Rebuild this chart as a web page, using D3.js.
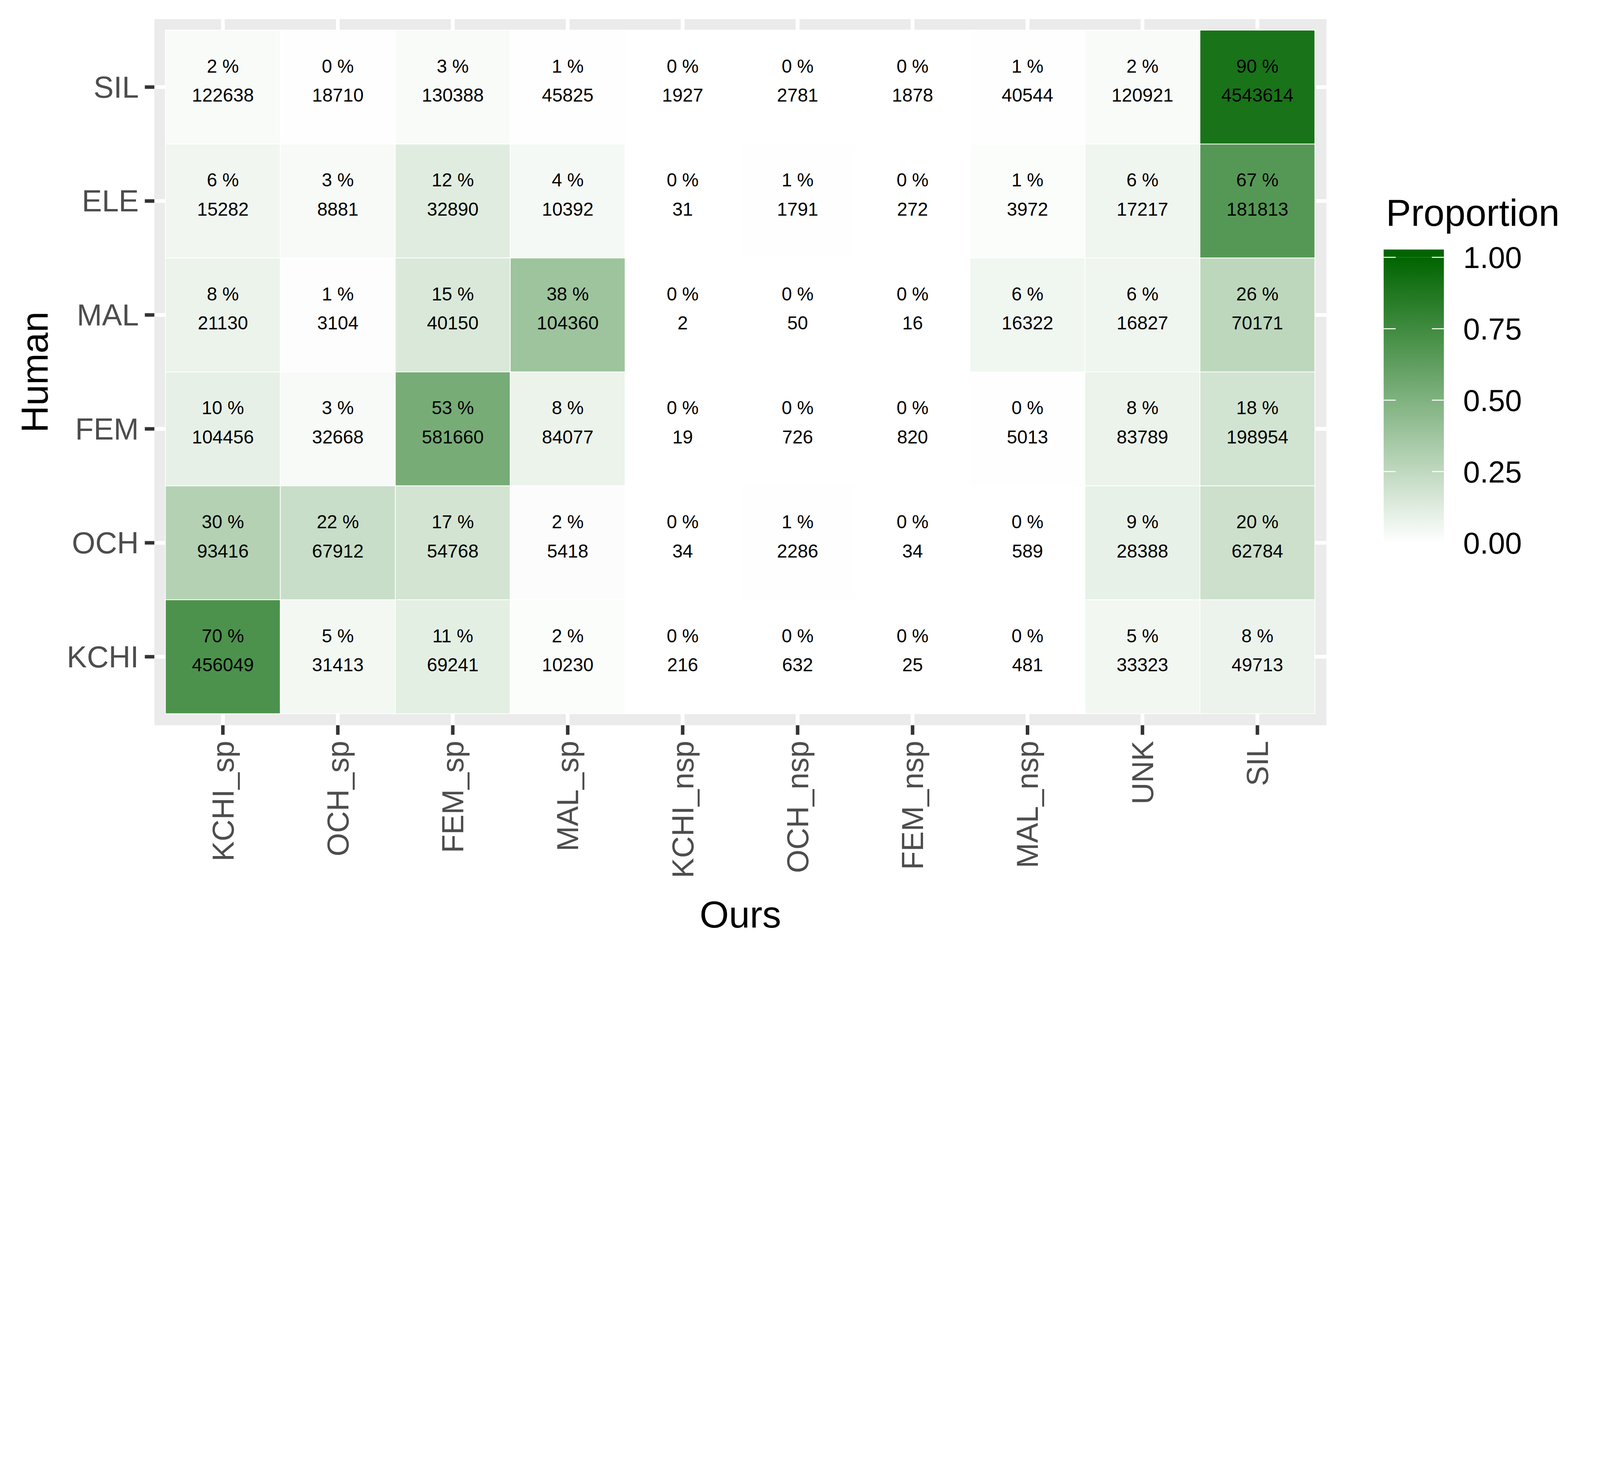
<!DOCTYPE html>
<html>
<head>
<meta charset="utf-8">
<script src="https://cdn.jsdelivr.net/npm/d3@7"></script>
<style>
  html, body { margin: 0; padding: 0; background: #fff; overflow: hidden; }
  #chart { display: block; width: 100vw; height: 100vh; }
  text { font-family: "Liberation Sans", Arial, sans-serif; }
</style>
</head>
<body>
<svg id="chart"></svg>
<script>
// Data
const ours = ["KCHI_sp", "OCH_sp", "FEM_sp", "MAL_sp", "KCHI_nsp", "OCH_nsp", "FEM_nsp", "MAL_nsp", "UNK", "SIL"];
const human = ["SIL", "ELE", "MAL", "FEM", "OCH", "KCHI"];
const countsSIL = [122638, 18710, 130388, 45825, 1927, 2781, 1878, 40544, 120921, 4543614];
const countsELE = [15282, 8881, 32890, 10392, 31, 1791, 272, 3972, 17217, 181813];
const countsMAL = [21130, 3104, 40150, 104360, 2, 50, 16, 16322, 16827, 70171];
const countsFEM = [104456, 32668, 581660, 84077, 19, 726, 820, 5013, 83789, 198954];
const countsOCH = [93416, 67912, 54768, 5418, 34, 2286, 34, 589, 28388, 62784];
const countsKCHI = [456049, 31413, 69241, 10230, 216, 632, 25, 481, 33323, 49713];
const legendTicks = [0, 0.25, 0.5, 0.75, 1];

const rows = [countsSIL, countsELE, countsMAL, countsFEM, countsOCH, countsKCHI];
const cells = [];
rows.forEach((r, i) => {
  const total = d3.sum(r);
  r.forEach((v, j) => cells.push({ h: human[i], o: ours[j], n: v, p: v / total }));
});

// Dimensions
const width = 6375, height = 3770;
const panel = { x0: 615, x1: 5285, y0: 76, y1: 2889 };
const svg = d3.select("#chart")
  .attr("viewBox", `0 0 ${width} ${height}`)
  .attr("preserveAspectRatio", "xMinYMin meet");

const x = d3.scaleBand().domain(ours).range([659, 5239]);
const y = d3.scaleBand().domain(human).range([120, 2843]);
const color = d3.scaleLinear().domain([0, 1]).range(["white", "darkgreen"]).interpolate(d3.interpolateRgb);

// Panel + grid
svg.append("rect").attr("x", panel.x0).attr("y", panel.y0)
  .attr("width", panel.x1 - panel.x0).attr("height", panel.y1 - panel.y0).attr("fill", "#EBEBEB");
ours.forEach(o => svg.append("line")
  .attr("x1", x(o) + x.bandwidth() / 2).attr("x2", x(o) + x.bandwidth() / 2)
  .attr("y1", panel.y0).attr("y2", panel.y1).attr("stroke", "white").attr("stroke-width", 15));
human.forEach(h => svg.append("line")
  .attr("y1", y(h) + y.bandwidth() / 2).attr("y2", y(h) + y.bandwidth() / 2)
  .attr("x1", panel.x0).attr("x2", panel.x1).attr("stroke", "white").attr("stroke-width", 15));

// Tiles
const cell = svg.selectAll("g.cell").data(cells).enter().append("g")
  .attr("transform", d => `translate(${x(d.o)},${y(d.h)})`);
cell.append("rect")
  .attr("width", x.bandwidth()).attr("height", y.bandwidth())
  .attr("fill", d => color(d.p)).attr("stroke", "white").attr("stroke-width", 3);
cell.append("text").attr("x", x.bandwidth() / 2).attr("y", y.bandwidth() / 2 - 58)
  .attr("text-anchor", "middle").attr("font-size", 74)
  .text(d => Math.round(d.p * 100) + " %");
cell.append("text").attr("x", x.bandwidth() / 2).attr("y", y.bandwidth() / 2 + 58)
  .attr("text-anchor", "middle").attr("font-size", 74)
  .text(d => d.n);

// Axes
ours.forEach(o => {
  const cx = x(o) + x.bandwidth() / 2;
  svg.append("line").attr("x1", cx).attr("x2", cx).attr("y1", panel.y1).attr("y2", panel.y1 + 38)
    .attr("stroke", "#333333").attr("stroke-width", 14);
  svg.append("text").attr("transform", `translate(${cx + 42},${panel.y1 + 62}) rotate(-90)`)
    .attr("text-anchor", "end").attr("font-size", 120).attr("fill", "#4D4D4D").text(o);
});
human.forEach(h => {
  const cy = y(h) + y.bandwidth() / 2;
  svg.append("line").attr("y1", cy).attr("y2", cy).attr("x1", panel.x0 - 38).attr("x2", panel.x0)
    .attr("stroke", "#333333").attr("stroke-width", 14);
  svg.append("text").attr("x", panel.x0 - 62).attr("y", cy + 42)
    .attr("text-anchor", "end").attr("font-size", 120).attr("fill", "#4D4D4D").text(h);
});
svg.append("text").attr("x", (panel.x0 + panel.x1) / 2).attr("y", 3695)
  .attr("text-anchor", "middle").attr("font-size", 150).text("Ours");
svg.append("text").attr("transform", `translate(${190},${(panel.y0 + panel.y1) / 2}) rotate(-90)`)
  .attr("text-anchor", "middle").attr("font-size", 150).text("Human");

// Legend
const lg = { x0: 5513, x1: 5753, top: 994, y1: 1025, y0: 2163 };
const ly = d3.scaleLinear().domain([0, 1]).range([lg.y0, lg.y1]);
const grad = svg.append("defs").append("linearGradient").attr("id", "grad")
  .attr("x1", 0).attr("x2", 0).attr("y1", 1).attr("y2", 0);
d3.range(0, 1.0001, 0.05).forEach(t => grad.append("stop").attr("offset", t).attr("stop-color", color(t)));
svg.append("rect").attr("x", lg.x0).attr("y", lg.top).attr("width", lg.x1 - lg.x0)
  .attr("height", lg.y1 - lg.top).attr("fill", color(1));
svg.append("rect").attr("x", lg.x0).attr("y", lg.y1).attr("width", lg.x1 - lg.x0)
  .attr("height", lg.y0 - lg.y1).attr("fill", "url(#grad)");
legendTicks.forEach(t => {
  svg.append("line").attr("x1", lg.x0).attr("x2", lg.x0 + 48).attr("y1", ly(t)).attr("y2", ly(t))
    .attr("stroke", "white").attr("stroke-width", 4);
  svg.append("line").attr("x1", lg.x1 - 48).attr("x2", lg.x1).attr("y1", ly(t)).attr("y2", ly(t))
    .attr("stroke", "white").attr("stroke-width", 4);
  svg.append("text").attr("x", 5830).attr("y", ly(t) + 43).attr("font-size", 120).text(d3.format(".2f")(t));
});
svg.append("text").attr("x", 5522).attr("y", 899).attr("font-size", 150).text("Proportion");
</script>
</body>
</html>
